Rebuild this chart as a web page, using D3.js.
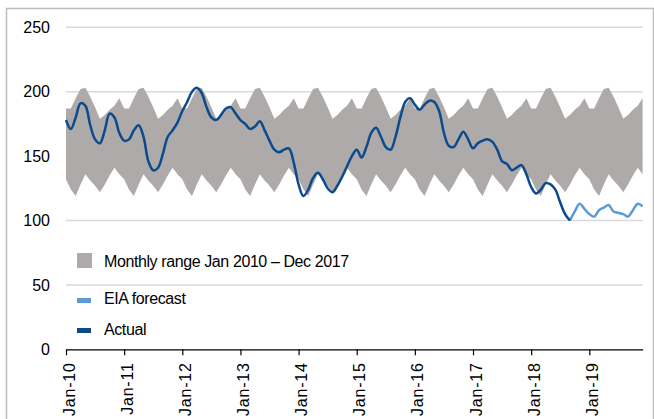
<!DOCTYPE html>
<html>
<head>
<meta charset="utf-8">
<script src="https://cdn.jsdelivr.net/npm/d3@7"></script>
<style>
  body { margin: 0; background: #fff; }
  svg { display: block; font-family: Arial, "Liberation Sans", sans-serif; }
</style>
</head>
<body>
<script>
// monthly range Jan 2010 - Dec 2017 (Jan..Dec), repeated each year
var bandUpper = [187, 187, 195, 202, 203, 196, 188, 179, 182, 186, 189, 195];
var bandLower = [132, 124, 119, 128, 136, 131, 127, 122, 128, 135, 141, 136];

// actual, monthly from Jan-10 to Sep-18
var actual = [
  178, 171, 180, 191, 189, 174, 163, 160, 170, 183, 180, 168,
  162, 163, 170, 174, 165, 146, 139, 141, 152, 165, 170, 176,
  185, 192, 200, 203, 199, 188, 180, 178, 182, 187, 188, 183,
  178, 175, 171, 173, 177, 170, 162, 155, 153, 155, 156, 145,
  128, 119, 124, 133, 137, 132, 125, 122, 127, 134, 142, 150,
  155, 149, 157, 168, 172, 165, 157, 155, 165, 180, 192, 195,
  190, 186, 190, 193, 192, 185, 168, 158, 157, 163, 169, 163,
  156, 160, 162, 163, 161, 155, 146, 144, 139, 141, 143, 136,
  126, 121, 124, 129, 128, 124, 114, 105, 100
];
// EIA forecast, monthly from Sep-18 to Dec-19
var forecast = [100, 107, 113, 109, 105, 103, 108, 110, 112, 107, 106, 105, 103, 108, 113, 111];

var xLabels = ["Jan-10", "Jan-11", "Jan-12", "Jan-13", "Jan-14", "Jan-15", "Jan-16", "Jan-17", "Jan-18", "Jan-19"];
var yTicks = [0, 50, 100, 150, 200, 250];
var legendLabels = ["Monthly range Jan 2010 \u2013 Dec 2017", "EIA forecast", "Actual"];

var width = 654, height = 419;
var nMonths = 120;

var svg = d3.select("body").append("svg")
    .attr("width", width)
    .attr("height", height);

// outer frame
svg.append("rect")
    .attr("x", 6.5).attr("y", 8.5)
    .attr("width", 647).attr("height", 430)
    .attr("fill", "none")
    .attr("stroke", "#bdbdbd")
    .attr("stroke-width", 1.5);

var x = d3.scaleLinear().domain([0, nMonths - 1]).range([66, 642.6]);
var y = d3.scaleLinear().domain([0, 250]).range([349.3, 27.3]);

// gridlines
svg.append("g").selectAll("line")
    .data(yTicks.filter(function(d) { return d > 0; }))
    .enter().append("line")
    .attr("x1", x(0)).attr("x2", x(nMonths - 1))
    .attr("y1", function(d) { return y(d); })
    .attr("y2", function(d) { return y(d); })
    .attr("stroke", "#d9d9d9")
    .attr("stroke-width", 1.5);

// band
var band = d3.range(nMonths).map(function(i) {
  return { m: i, lo: bandLower[i % 12], hi: bandUpper[i % 12] };
});
svg.append("path")
    .datum(band)
    .attr("fill", "#aeaaaa")
    .attr("d", d3.area()
      .x(function(d) { return x(d.m); })
      .y0(function(d) { return y(d.lo); })
      .y1(function(d) { return y(d.hi); }));

var line = d3.line()
    .x(function(d) { return x(d.m); })
    .y(function(d) { return y(d.v); })
    .curve(d3.curveCatmullRom.alpha(0.5));

var actualData = actual.map(function(v, i) { return { m: i, v: v }; });
var fcStart = actual.length - 1;
var forecastData = forecast.map(function(v, i) { return { m: fcStart + i, v: v }; });

svg.append("path")
    .datum(forecastData)
    .attr("fill", "none")
    .attr("stroke", "#5b9bd5")
    .attr("stroke-width", 2.5)
    .attr("d", line);

svg.append("path")
    .datum(actualData)
    .attr("fill", "none")
    .attr("stroke", "#0b4a8b")
    .attr("stroke-width", 2.5)
    .attr("d", line);

// y axis labels
var yAxis = svg.append("g")
    .attr("transform", "translate(" + x(0) + ",0)")
    .call(d3.axisLeft(y).tickValues(yTicks).tickSize(0).tickPadding(16));
yAxis.select(".domain").remove();
yAxis.selectAll("text")
    .attr("font-size", 16)
    .attr("font-family", "Arial, 'Liberation Sans', sans-serif")
    .attr("fill", "#000");

// x axis
var xAxis = svg.append("g")
    .attr("transform", "translate(0," + y(0) + ")")
    .call(d3.axisBottom(x)
      .tickValues(d3.range(0, nMonths, 12))
      .tickFormat(function(d, i) { return xLabels[i]; })
      .tickSize(6)
      .tickSizeOuter(0));
xAxis.select(".domain").attr("stroke", "#000").attr("stroke-width", 1.2);
xAxis.selectAll(".tick line").attr("stroke", "#000").attr("stroke-width", 1.2);
xAxis.selectAll("text")
    .attr("font-size", 16)
    .attr("font-family", "Arial, 'Liberation Sans', sans-serif")
    .attr("letter-spacing", "0.8px")
    .attr("fill", "#000")
    .attr("text-anchor", "end")
    .attr("transform", "translate(0,13) rotate(-90)")
    .attr("x", 0)
    .attr("y", 0)
    .attr("dy", "0.5em");

// legend
var legend = svg.append("g");
legend.append("rect")
    .attr("x", 77).attr("y", 253)
    .attr("width", 15).attr("height", 15)
    .attr("fill", "#aeaaaa");
legend.append("rect")
    .attr("x", 77).attr("y", 298)
    .attr("width", 14).attr("height", 5)
    .attr("fill", "#5b9bd5");
legend.append("rect")
    .attr("x", 77).attr("y", 328)
    .attr("width", 14).attr("height", 5)
    .attr("fill", "#0b4a8b");

var legendY = [267, 304, 335];
legend.selectAll("text")
    .data(legendLabels)
    .enter().append("text")
    .attr("x", 104)
    .attr("y", function(d, i) { return legendY[i]; })
    .attr("font-size", 16)
    .attr("letter-spacing", "-0.4px")
    .attr("fill", "#000")
    .text(function(d) { return d; });
</script>
</body>
</html>
